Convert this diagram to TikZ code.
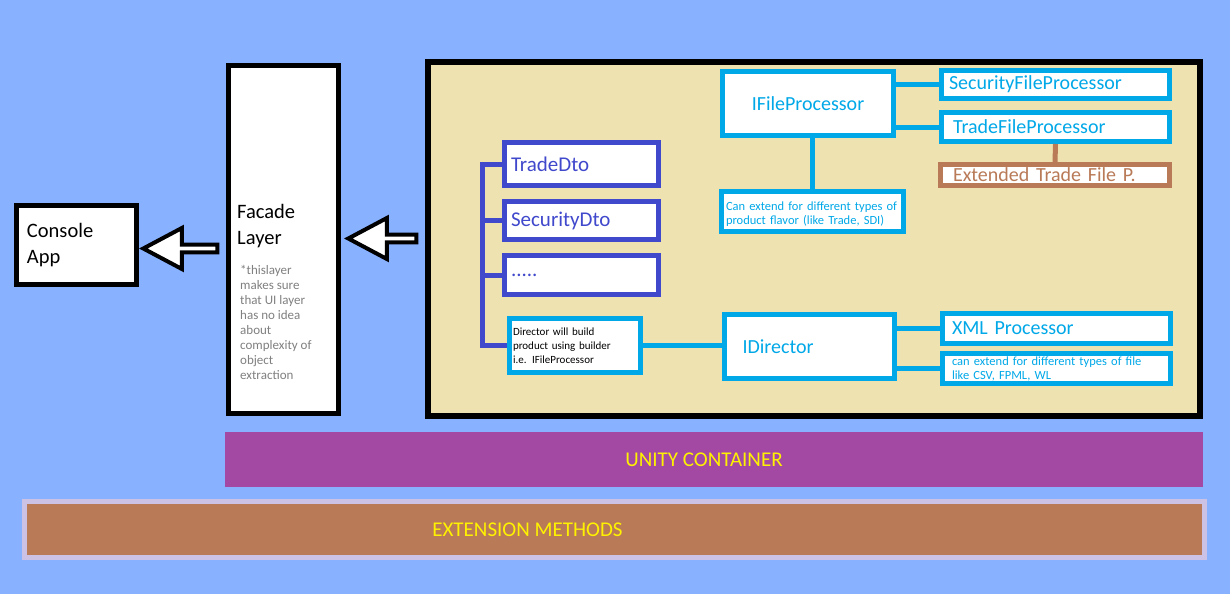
\documentclass[tikz,border=0pt]{standalone}
\usepackage{fontspec}
\setmainfont{Carlito}
\usetikzlibrary{positioning,shapes.arrows}
\definecolor{bgblue}{RGB}{136,177,255}
\definecolor{beige}{RGB}{238,227,176}
\definecolor{skyb}{RGB}{0,168,232}
\definecolor{dtob}{RGB}{64,72,204}
\definecolor{tan}{RGB}{185,122,87}
\definecolor{plum}{RGB}{163,73,164}
\definecolor{lilac}{RGB}{204,194,230}
\definecolor{yel}{RGB}{255,242,0}
\tikzset{
	big/.style={font=\fontsize{20.5}{26}\selectfont},
	mid/.style={font=\fontsize{20}{24}\selectfont},
	tiny/.style={font=\fontsize{12.5}{14}\selectfont},
	plain/.style={draw=black, line width=5pt, fill=white, align=left, inner sep=0pt},
	proc/.style={draw=skyb, line width=5pt, fill=white, align=left, inner sep=0pt, text=skyb},
	dto/.style={draw=dtob, line width=5pt, fill=white, align=left, inner sep=0pt, text=dtob, font=\fontsize{21}{24}\selectfont},
	band/.style={fill=#1, inner sep=0pt},
	bandtext/.style={text=yel, font=\fontsize{21}{24}\selectfont, inner sep=0pt},
	bigarrow/.style={draw=black, line width=4pt, fill=white, single arrow, shape border rotate=180,
		single arrow head extend=8.5pt, single arrow tip angle=56, inner sep=0pt, minimum width=41pt},
	link/.style={draw=skyb, line width=5pt},
	tree/.style={draw=dtob, line width=5pt, line join=miter}
}
\begin{document}
\begin{tikzpicture}[x=1pt, y=-1pt]
	\fill[bgblue] (0,0) rectangle (1230,594);
	\useasboundingbox (0,0) rectangle (1230,594);

	\node[plain, big, minimum width=120pt, minimum height=79pt, text width=99pt] (console) at (76.5,245) {Console\\App};
	\node[plain, minimum width=110pt, minimum height=348pt] (facade) at (283.5,239.5) {};
	\node[big, inner sep=0pt, align=left, below right=141pt and 11pt of facade.north west] (facadetxt) {Facade\\Layer};
	\node[font=\fontsize{13}{15}\selectfont, text=gray, inner sep=0pt, align=left, below=17pt of facadetxt.south west, anchor=north west, xshift=3pt] (facadenote)
		{*thislayer\\makes sure\\that UI layer\\has no idea\\about\\complexity of\\object\\extraction};

	\node[bigarrow, minimum height=74pt] (arrowa) at (184,248.5) {};
	\node[bigarrow, minimum height=68pt] (arrowb) at (386,238.5) {};

	\node[draw=black, line width=6pt, fill=beige, minimum width=772pt, minimum height=354pt] (core) at (814,239) {};

	\node[proc, mid, align=center, minimum width=171pt, minimum height=64pt] (ifp) at (808,103.5) {IFileProcessor};
	\node[proc, mid, minimum width=228pt, minimum height=28pt, text width=213pt] (sfp) at (1055.5,84.5) {SecurityFileProcessor};
	\node[proc, mid, minimum width=228pt, minimum height=29pt, text width=205pt] (tfp) at (1055.5,127) {TradeFileProcessor};
	\node[draw=tan, line width=5pt, fill=white, align=left, inner sep=0pt, text=tan, mid, minimum width=229pt, minimum height=21pt, text width=204pt] (etfp) at (1055,175) {Extended Trade File P.};
	\node[proc, tiny, minimum width=182pt, minimum height=40pt, text width=173pt, text depth=11pt] (pflavor) at (812.5,211.5) {Can extend for different types of\\product flavor (like Trade, SDI)};

	\node[dto, minimum width=154pt, minimum height=43pt, text width=141pt] (tradedto) at (581.5,164) {TradeDto};
	\node[dto, minimum width=154pt, minimum height=38pt, text width=141pt] (secdto) at (581.5,220.5) {SecurityDto};
	\node[dto, minimum width=154pt, minimum height=39pt, text width=141pt] (moredto) at (581.5,275) {.....};
	\node[proc, font=\fontsize{11}{14}\selectfont, text=black, minimum width=131pt, minimum height=54pt, text width=124pt] (director) at (575,345.5) {Director will build\\product using builder\\i.e. IFileProcessor};

	\node[proc, mid, minimum width=170pt, minimum height=64pt, text width=134pt] (idir) at (809.5,346.5) {IDirector};
	\node[proc, mid, minimum width=228pt, minimum height=30pt, text width=209pt] (xmlp) at (1056.5,328.5) {XML Processor};
	\node[proc, tiny, minimum width=228pt, minimum height=30pt, text width=209pt] (ftypes) at (1056.5,368.5) {can extend for different types of file\\like CSV, FPML, WL};

	\draw[link] (sfp.west -| ifp.east) -- (sfp.west);
	\draw[link] (tfp.west -| ifp.east) -- (tfp.west);
	\draw[link] (pflavor.north |- ifp.south) -- (pflavor.north);
	\draw[draw=tan, line width=5pt] (tfp.south) -- (etfp.north);
	\draw[tree] (tradedto.west) -- ++(-20,0) |- (director.west);
	\draw[tree] (secdto.west) -- ++(-20,0);
	\draw[tree] (moredto.west) -- ++(-20,0);
	\draw[link] (director.east) -- (director.east -| idir.west);
	\draw[link] (xmlp.west -| idir.east) -- (xmlp.west);
	\draw[link] (ftypes.west -| idir.east) -- (ftypes.west);

	\node[band=plum, minimum width=978pt, minimum height=55pt] (unity) at (714,459.5) {};
	\node[bandtext, xshift=-10pt] (unitytxt) at (unity.center) {UNITY CONTAINER};
	\node[band=tan, draw=lilac, line width=5pt, minimum width=1180pt, minimum height=56pt] (ext) at (614.5,529.5) {};
	\node[bandtext, xshift=-87pt] (exttxt) at (ext.center) {EXTENSION METHODS};
\end{tikzpicture}
\end{document}
